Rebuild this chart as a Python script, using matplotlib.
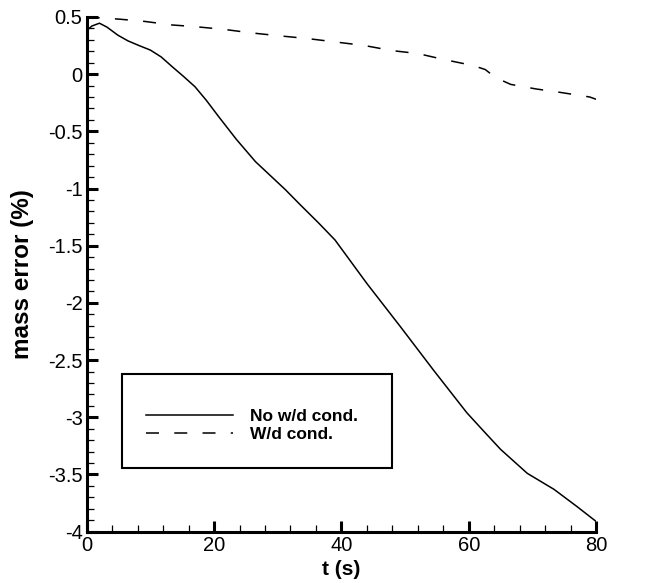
import numpy as np
import matplotlib.pyplot as plt
from matplotlib.patches import Rectangle
from matplotlib.ticker import MultipleLocator

plt.rcParams['font.family'] = ['Liberation Sans', 'DejaVu Sans']
plt.rcParams['axes.unicode_minus'] = False

# solid curve: no wetting/drying condition
t_no = [0, 0.8, 2.0, 3.2, 4.9, 6.5, 8.2, 10.0, 11.7, 13.4, 15.2, 17.0, 18.8, 20.7,
        23.5, 26.5, 31.2, 33.5, 36.4, 39.0, 44.0, 49.3, 54.5, 59.7, 62.5, 65.0,
        69.2, 73.4, 77.0, 80.0]
m_no = [0.38, 0.42, 0.445, 0.41, 0.34, 0.29, 0.25, 0.21, 0.15, 0.066, -0.02, -0.11,
        -0.23, -0.37, -0.57, -0.765, -1.01, -1.14, -1.30, -1.45, -1.83, -2.21, -2.59,
        -2.96, -3.13, -3.28, -3.49, -3.63, -3.78, -3.91]

# dashed curve: with wetting/drying condition
t_wd = [0, 5.2, 9.2, 13.3, 17.0, 21.7, 25.9, 30.2, 34.8, 39.2, 43.6, 48.0, 52.0,
        55.9, 59.8, 61.5, 62.6, 64.2, 66.6, 70.6, 74.4, 79.0, 80.0]
m_wd = [0.5, 0.48, 0.46, 0.43, 0.415, 0.39, 0.36, 0.335, 0.31, 0.28, 0.25, 0.205,
        0.18, 0.13, 0.085, 0.06, 0.04, -0.03, -0.09, -0.13, -0.16, -0.2, -0.22]

fig = plt.figure(figsize=(6.5, 5.83), dpi=100)
ax = fig.add_axes([0.1334, 0.088, 0.917 - 0.1334, 0.971 - 0.088])

ax.plot(t_no, m_no, color='black', lw=1.1, label='No w/d cond.')
ax.plot(t_wd, m_wd, color='black', lw=1.1, dashes=(8.5, 10), label='W/d cond.')

ax.set_xlim(0, 80)
ax.set_ylim(-4, 0.5)
ax.xaxis.set_major_locator(MultipleLocator(20))
ax.xaxis.set_minor_locator(MultipleLocator(4))
ax.yaxis.set_major_locator(MultipleLocator(0.5))
ax.yaxis.set_minor_locator(MultipleLocator(0.1))
ax.yaxis.set_major_formatter(plt.FuncFormatter(lambda v, p: '%g' % v))

for s in ['top', 'right']:
    ax.spines[s].set_visible(False)
for s in ['left', 'bottom']:
    ax.spines[s].set_linewidth(2.2)

ax.tick_params(which='major', direction='in', length=8, width=2.2, labelsize=14.5, pad=3)
ax.tick_params(which='minor', direction='in', length=5, width=0.9)

ax.set_xlabel('t (s)', fontsize=15, fontweight='bold', labelpad=4)
ax.set_ylabel('mass error (%)', fontsize=17.5, fontweight='bold', labelpad=10)

# legend with box drawn separately
ax.add_patch(Rectangle((0.069, 0.124), 0.531, 0.182, transform=ax.transAxes,
                       fill=False, edgecolor='black', lw=1.5, zorder=5))
ax.legend(loc='upper left', bbox_to_anchor=(0.116, 0.238), frameon=False,
          handlelength=5.0, handletextpad=1.0, labelspacing=0.15,
          prop={'weight': 'bold', 'size': 12.5}, borderaxespad=0, borderpad=0)

fig.savefig('out.png', dpi=100)
